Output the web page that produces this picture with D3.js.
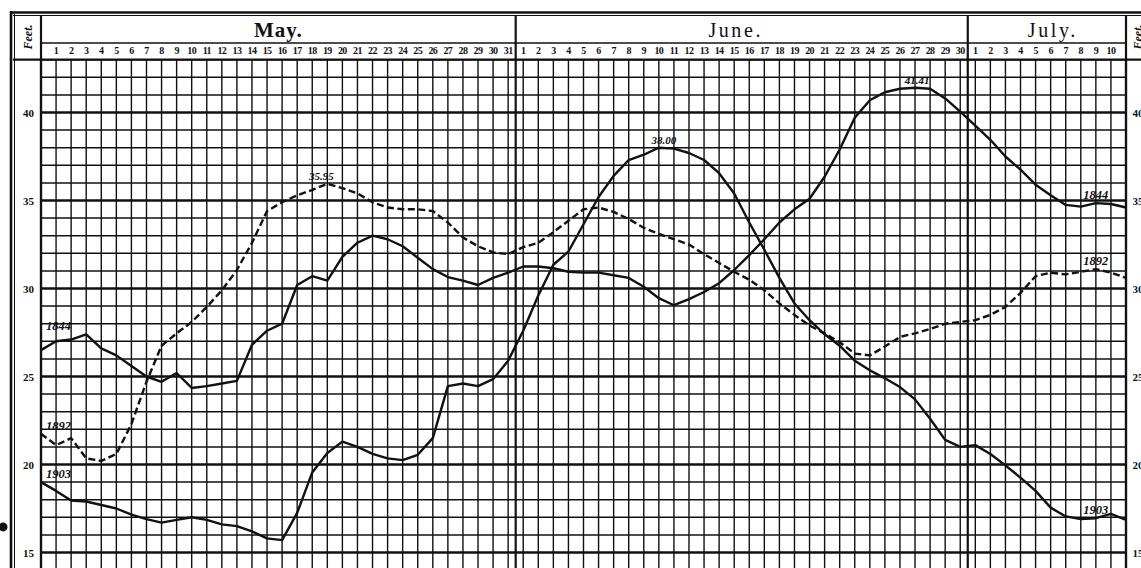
<!DOCTYPE html>
<html>
<head>
<meta charset="utf-8">
<script src="https://cdn.jsdelivr.net/npm/d3@7/dist/d3.min.js"></script>
<style>
  html, body { margin: 0; padding: 0; background: #fff; overflow: hidden; }
  svg { display: block; }
  text { font-family: "Liberation Serif", "DejaVu Serif", serif; fill: #111; }
</style>
</head>
<body>
<svg id="chart" width="1141" height="568"></svg>
<script>
// ── Data ────────────────────────────────────────────────────────
// Stage in feet, one reading per day. First and last values sit on the
// frame edges (the day before May 1 and the day after July 10).
const months    = ['May.', 'June.', 'July.'];
const monthDays = [31, 30, 10];
const feetTicks = [15, 20, 25, 30, 35, 40];

const s1844 = [
  26.5,
  27.0, 27.1, 27.4, 26.6, 26.2, 25.6, 25.0, 24.7, 25.2, 24.35,
  24.45, 24.6, 24.75, 26.8, 27.6, 28.0, 30.2, 30.7, 30.45, 31.8,
  32.6, 33.0, 32.8, 32.4, 31.75, 31.1, 30.65, 30.45, 30.2, 30.6, 30.9,
  31.25, 31.25, 31.15, 30.95, 30.9, 30.9, 30.75, 30.6, 30.1, 29.45,
  29.05, 29.4, 29.8, 30.3, 31.05, 31.9, 32.8, 33.75, 34.5, 35.1,
  36.35, 37.9, 39.7, 40.7, 41.15, 41.35, 41.41, 41.35, 40.8, 40.05,
  39.25, 38.45, 37.5, 36.75, 35.9, 35.3, 34.75, 34.65, 34.85, 34.8,
  34.6
];

const s1892 = [
  21.75,
  21.1, 21.5, 20.35, 20.2, 20.6, 22.3, 24.7, 26.75, 27.45, 28.1,
  28.95, 29.9, 31.05, 32.6, 34.4, 34.9, 35.3, 35.6, 35.95, 35.7,
  35.4, 34.9, 34.6, 34.5, 34.5, 34.4, 33.75, 32.9, 32.4, 32.05, 31.95,
  32.35, 32.6, 33.2, 33.85, 34.5, 34.6, 34.35, 33.95, 33.45, 33.1,
  32.8, 32.5, 31.95, 31.45, 30.95, 30.5, 29.9, 29.15, 28.5, 27.9,
  27.45, 26.95, 26.3, 26.2, 26.7, 27.25, 27.45, 27.7, 28.0, 28.1,
  28.2, 28.5, 28.95, 29.75, 30.7, 30.9, 30.8, 30.95, 31.1, 30.9,
  30.6
];

const s1903 = [
  19.0,
  18.5, 17.95, 17.9, 17.7, 17.5, 17.15, 16.9, 16.7, 16.85, 17.0,
  16.85, 16.6, 16.5, 16.2, 15.8, 15.7, 17.25, 19.55, 20.65, 21.3,
  21.0, 20.6, 20.35, 20.25, 20.55, 21.5, 24.45, 24.6, 24.45, 24.85, 25.9,
  27.6, 29.6, 31.35, 32.1, 33.65, 35.2, 36.4, 37.3, 37.6, 38.0,
  37.95, 37.7, 37.3, 36.55, 35.4, 33.75, 32.2, 30.6, 29.15, 28.2,
  27.4, 26.75, 25.9, 25.35, 24.9, 24.4, 23.7, 22.6, 21.4, 21.0,
  21.1, 20.6, 19.95, 19.25, 18.5, 17.55, 17.05, 16.9, 16.95, 17.2,
  16.85
];

const series = [
  { year: '1844', values: s1844, dashed: false },
  { year: '1892', values: s1892, dashed: true  },
  { year: '1903', values: s1903, dashed: false }
];

// ── Layout ──────────────────────────────────────────────────────
const W = 1141, H = 568;
const nDays = d3.sum(monthDays);                 // 71
const x = d3.scaleLinear().domain([-1, nDays]).range([41, 1126]);
const y = d3.scaleLinear().domain([15, 40]).range([552.5, 112.5]);
const gridTop = y(43);
const ink = '#111';

const svg = d3.select('#chart');
svg.append('rect').attr('width', W).attr('height', H).attr('fill', '#fff');

// ── Grid ────────────────────────────────────────────────────────
const grid = svg.append('g');

grid.selectAll('line.h')
  .data(d3.range(14, 44))
  .join('line')
  .attr('x1', x(-1)).attr('x2', x(nDays))
  .attr('y1', d => y(d)).attr('y2', d => y(d))
  .attr('stroke', ink)
  .attr('stroke-width', d => d % 5 === 0 ? 2.5 : 1.5);

grid.selectAll('line.v')
  .data(d3.range(-1, nDays + 1))
  .join('line')
  .attr('x1', d => x(d)).attr('x2', d => x(d))
  .attr('y1', gridTop).attr('y2', H)
  .attr('stroke', ink)
  .attr('stroke-width', d => (d === -1 || d === nDays) ? 2.2 : 1.4);

// month boundaries sit half a column past the last day of each month
const starts = monthDays.map((n, i) => d3.sum(monthDays.slice(0, i)));
const seps = starts.slice(1).map(s => x(s - 0.5));

// ── Frame and header ────────────────────────────────────────────
const frame = svg.append('g').attr('stroke', ink).attr('fill', 'none');
const hline = (x1, x2, yy, w) => frame.append('line')
  .attr('x1', x1).attr('x2', x2).attr('y1', yy).attr('y2', yy).attr('stroke-width', w);
const vline = (xx, y1, y2, w) => frame.append('line')
  .attr('x1', xx).attr('x2', xx).attr('y1', y1).attr('y2', y2).attr('stroke-width', w);

hline(10, W, 12.5, 2.6);
hline(13, W, 15.5, 1);
vline(11, 11, H, 2.6);
vline(14.5, 14, H, 1);
vline(x(-1), 15, H, 2.2);
vline(x(nDays), 15, H, 2.2);
seps.forEach(sx => vline(sx, 15, H, 2.2));
hline(x(-1), x(nDays), 43, 1.6);
hline(13, W, gridTop, 2.2);

// month names
const monthEdges = [x(-1), ...seps, x(nDays)];
svg.selectAll('text.month')
  .data(months)
  .join('text')
  .attr('class', 'month')
  .attr('x', (d, i) => (monthEdges[i] + monthEdges[i + 1]) / 2 + (i === 2 ? 6 : i === 1 ? -6 : 0))
  .attr('y', 37)
  .attr('text-anchor', 'middle')
  .attr('font-size', (d, i) => i === 0 ? 21 : 20)
  .attr('font-weight', (d, i) => i === 0 ? 'bold' : 'normal')
  .attr('letter-spacing', (d, i) => i === 0 ? 1 : 2.6)
  .text(d => d);

// day numbers
const dayLabels = [];
monthDays.forEach((n, m) => {
  for (let d = 1; d <= n; d++) dayLabels.push({ i: starts[m] + d - 1, label: String(d) });
});
svg.selectAll('text.day')
  .data(dayLabels)
  .join('text')
  .attr('class', 'day')
  .attr('x', d => x(d.i))
  .attr('y', 54)
  .attr('text-anchor', 'middle')
  .attr('font-size', 10)
  .attr('font-weight', 'bold')
  .attr('letter-spacing', -0.6)
  .text(d => d.label);

// "Feet." in the side columns
[27.5, 1138].forEach(cx => {
  svg.append('text')
    .attr('transform', `translate(${cx},37) rotate(-90)`)
    .attr('text-anchor', 'middle')
    .attr('dominant-baseline', 'central')
    .attr('font-size', 12)
    .attr('font-style', 'italic')
    .attr('font-weight', 'bold')
    .text('Feet.');
});

// foot labels on both sides
[28.5, 1138].forEach(cx => {
  svg.append('g').selectAll('text')
    .data(feetTicks)
    .join('text')
    .attr('x', cx)
    .attr('y', d => y(d))
    .attr('text-anchor', 'middle')
    .attr('dominant-baseline', 'central')
    .attr('font-size', 11)
    .attr('font-weight', 'bold')
    .text(d => d);
});

// ── Stage lines ─────────────────────────────────────────────────
const line = d3.line()
  .x((d, k) => x(k - 1))
  .y(d => y(d));

svg.append('g').selectAll('path')
  .data(series)
  .join('path')
  .attr('d', d => line(d.values))
  .attr('fill', 'none')
  .attr('stroke', ink)
  .attr('stroke-width', 2.4)
  .attr('stroke-linejoin', 'round')
  .attr('stroke-dasharray', d => d.dashed ? '7,3.5' : null);

// year labels at both ends, peak values above the crests
const lbl = svg.append('g')
  .attr('font-size', 12.5)
  .attr('font-style', 'italic')
  .attr('font-weight', 'bold');

series.forEach(s => {
  lbl.append('text')
    .attr('x', x(-1) + 5)
    .attr('y', y(d3.max(s.values.slice(0, 5))) - 4)
    .text(s.year);

  const last = s.values.length - 3;               // July 9
  lbl.append('text')
    .attr('x', x(last - 1))
    .attr('y', y(s.values[last]) - 4)
    .attr('text-anchor', 'middle')
    .attr('fill', s.year === '1903' ? '#888' : ink)
    .text(s.year);
});

// crest values: 35.95 (1892), 38.00 (1903), 41.41 (1844)
series.forEach(s => {
  const k = d3.maxIndex(s.values);
  lbl.append('text')
    .attr('x', x(k - 1) + (s.year === '1892' ? -6 : s.year === '1903' ? 5 : 2))
    .attr('y', y(s.values[k]) - 4)
    .attr('text-anchor', 'middle')
    .attr('font-size', 11)
    .text(d3.format('.2f')(s.values[k]));
});

// ink blot on the scan's left margin
svg.append('circle').attr('cx', 3).attr('cy', 527).attr('r', 4.5).attr('fill', ink);
</script>
</body>
</html>
